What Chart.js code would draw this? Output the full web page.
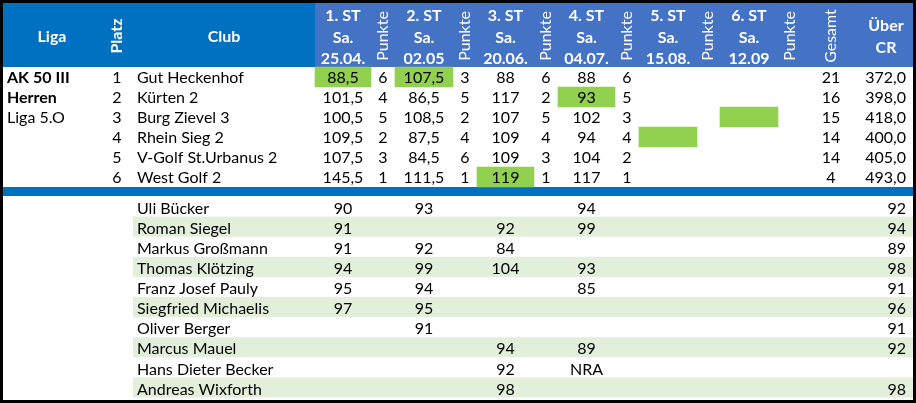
<!DOCTYPE html>
<html>
<head>
<meta charset="utf-8">
<script src="https://cdn.jsdelivr.net/npm/chart.js"></script>
<style>
  html, body { margin: 0; padding: 0; background: #fff; }
  canvas { display: block; }
</style>
</head>
<body>
<canvas id="tabelle" width="916" height="403"></canvas>
<script>
// ---- data ----
const liga = ['AK 50 III', 'Herren', 'Liga 5.O'];
const platz = [1, 2, 3, 4, 5, 6];
const clubs = ['Gut Heckenhof', 'Kürten 2', 'Burg Zievel 3', 'Rhein Sieg 2', 'V-Golf St.Urbanus 2', 'West Golf 2'];
const spieltage = [['1. ST', 'Sa.', '25.04.'], ['2. ST', 'Sa.', '02.05'], ['3. ST', 'Sa.', '20.06.'],
                   ['4. ST', 'Sa.', '04.07.'], ['5. ST', 'Sa.', '15.08.'], ['6. ST', 'Sa.', '12.09']];
const st1 = [88.5, 101.5, 100.5, 109.5, 107.5, 145.5];
const pk1 = [6, 4, 5, 2, 3, 1];
const st2 = [107.5, 86.5, 108.5, 87.5, 84.5, 111.5];
const pk2 = [3, 5, 2, 4, 6, 1];
const st3 = [88, 117, 107, 109, 109, 119];
const pk3 = [6, 2, 5, 4, 3, 1];
const st4 = [88, 93, 102, 94, 104, 117];
const pk4 = [6, 5, 3, 4, 2, 1];
const gesamt = [21, 16, 15, 14, 14, 4];
const ueberCR = [372, 398, 418, 400, 405, 493];
// [team row, spieltag] of the green cells
const highlights = [[0, 1], [0, 2], [1, 4], [2, 6], [3, 5], [5, 3]];

const spieler = ['Uli Bücker', 'Roman Siegel', 'Markus Großmann', 'Thomas Klötzing', 'Franz Josef Pauly',
                 'Siegfried Michaelis', 'Oliver Berger', 'Marcus Mauel', 'Hans Dieter Becker', 'Andreas Wixforth'];
const sp1 = [90, 91, 91, 94, 95, 97, null, null, null, null];
const sp2 = [93, null, 92, 99, 94, 95, 91, null, null, null];
const sp3 = [null, 92, 84, 104, null, null, null, 94, 92, 98];
const sp4 = [94, 99, null, 93, 85, null, null, 89, 'NRA', null];
const spCR = [92, 94, 89, 98, 91, 96, 91, 92, null, 98];

// ---- layout (sheet units) ----
const stCols = [[315, 371], [395, 453], [477, 534], [558, 615], [639, 697], [720, 778]];
const pkX = [383, 465, 546, 627, 708, 790];
const ligaX = 7, platzX = 117, clubX = 137, gesamtX = 831, crRight = 906, crX = 886;
const headTop = 3, headBottom = 67, rowH = 20;
const stripeTop = 187, stripeBottom = 196;
const spTop = 196.5, spH = 20.1;
const teamY = i => headBottom + rowH * i + rowH / 2;
const spY = i => spTop + spH * i + spH / 2;

const FONT = 'Lato, "Open Sans", sans-serif';
const fmt1 = v => v.toFixed(1).replace('.', ',');

const tablePlugin = {
  id: 'tabelle',
  beforeDatasetsDraw(chart) {
    const { ctx, scales: { x, y } } = chart;
    const box = (x0, y0, x1, y1, c) => {
      const px = x.getPixelForValue(x0), py = y.getPixelForValue(y0);
      ctx.fillStyle = c;
      ctx.fillRect(px, py, x.getPixelForValue(x1) - px, y.getPixelForValue(y1) - py);
    };
    box(3, headTop, 315, headBottom, '#0070C0');
    box(315, headTop, 913, headBottom, '#4472C4');
    box(3, stripeTop, 913, stripeBottom, '#0070C0');
    spieler.forEach((n, i) => {
      if (i % 2 === 1) box(133, spTop + spH * i, 913, spTop + spH * (i + 1), '#E2EFDA');
    });
  },
  afterDatasetsDraw(chart) {
    const { ctx, scales: { x, y } } = chart;
    const txt = (s, xv, yv, align, font, color) => {
      if (s === null || s === undefined || s === '') return;
      ctx.font = font;
      ctx.fillStyle = color || '#000';
      ctx.textAlign = align;
      ctx.textBaseline = 'middle';
      ctx.fillText(String(s), x.getPixelForValue(xv), y.getPixelForValue(yv));
    };
    const vtxt = (s, xv, yv, font) => {
      ctx.save();
      ctx.translate(x.getPixelForValue(xv), y.getPixelForValue(yv));
      ctx.rotate(-Math.PI / 2);
      ctx.font = font;
      ctx.fillStyle = '#fff';
      ctx.textAlign = 'center';
      ctx.textBaseline = 'middle';
      ctx.fillText(s, 0, 0);
      ctx.restore();
    };
    const norm = '16px ' + FONT, bold = 'bold 16px ' + FONT;

    // header
    txt('Liga', 52, 37, 'center', bold, '#fff');
    vtxt('Platz', platzX, 36, bold);
    txt('Club', 224, 37, 'center', bold, '#fff');
    spieltage.forEach((lines, s) => {
      const cx = (stCols[s][0] + stCols[s][1]) / 2;
      lines.forEach((l, k) => txt(l, cx, 16 + k * 21.5, 'center', bold, '#fff'));
      vtxt('Punkte', pkX[s], 36, norm);
    });
    vtxt('Gesamt', gesamtX, 36, norm);
    txt('Über', crX, 26, 'center', bold, '#fff');
    txt('CR', crX, 48, 'center', bold, '#fff');

    // team rows
    liga.forEach((l, i) => txt(l, ligaX, teamY(i) + 0.5, 'left', i < 2 ? bold : norm));
    const mid = s => (stCols[s][0] + stCols[s][1]) / 2;
    clubs.forEach((c, i) => {
      const yy = teamY(i) + 0.5;
      txt(platz[i], platzX, yy, 'center', norm);
      txt(c, clubX, yy, 'left', norm);
      txt(fmt1(st1[i]), mid(0), yy, 'center', norm);
      txt(pk1[i], pkX[0], yy, 'center', norm);
      txt(fmt1(st2[i]), mid(1), yy, 'center', norm);
      txt(pk2[i], pkX[1], yy, 'center', norm);
      txt(st3[i], mid(2), yy, 'center', norm);
      txt(pk3[i], pkX[2], yy, 'center', norm);
      txt(st4[i], mid(3), yy, 'center', norm);
      txt(pk4[i], pkX[3], yy, 'center', norm);
      txt(gesamt[i], gesamtX, yy, 'center', norm);
      txt(fmt1(ueberCR[i]), crRight, yy, 'right', norm);
    });

    // player rows (text sits a little low in the cell)
    spieler.forEach((n, i) => {
      const yy = spY(i) + 2;
      txt(n, clubX, yy, 'left', norm);
      txt(sp1[i], mid(0), yy, 'center', norm);
      txt(sp2[i], mid(1), yy, 'center', norm);
      txt(sp3[i], mid(2), yy, 'center', norm);
      txt(sp4[i], mid(3), yy, 'center', norm);
      txt(spCR[i], crRight, yy, 'right', norm);
    });

    // frame
    ctx.strokeStyle = '#000';
    ctx.lineWidth = 3;
    ctx.strokeRect(x.getPixelForValue(1.5), y.getPixelForValue(1.5),
                   x.getPixelForValue(914.5) - x.getPixelForValue(1.5),
                   y.getPixelForValue(401.5) - y.getPixelForValue(1.5));
  }
};

new Chart(document.getElementById('tabelle'), {
  type: 'bar',
  data: {
    datasets: [{
      label: 'Markiert',
      data: highlights.map(([r, s]) => ({ x: stCols[s - 1], y: teamY(r) })),
      backgroundColor: '#92D050',
      borderWidth: 0,
      barThickness: rowH
    }]
  },
  options: {
    indexAxis: 'y',
    responsive: false,
    animation: false,
    layout: { padding: 0 },
    scales: {
      x: { type: 'linear', min: 0, max: 916, offset: false, display: false },
      y: { type: 'linear', min: 0, max: 403, reverse: true, offset: false, display: false }
    },
    plugins: { legend: { display: false }, tooltip: { enabled: false } }
  },
  plugins: [tablePlugin]
});
</script>
</body>
</html>
